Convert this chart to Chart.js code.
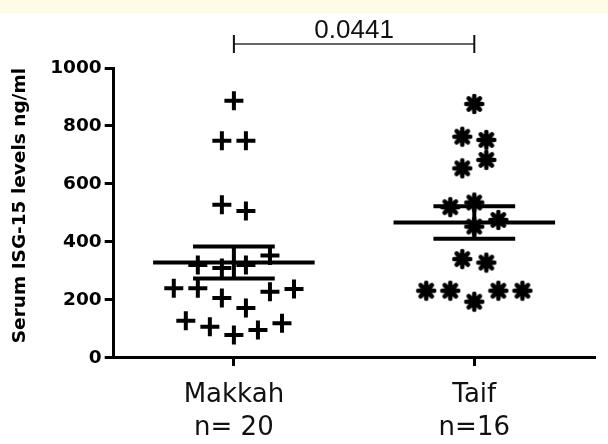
<!DOCTYPE html>
<html>
<head>
<meta charset="utf-8">
<script src="https://cdn.jsdelivr.net/npm/chart.js@4"></script>
<style>
  html, body { margin: 0; padding: 0; background: #fff; }
  #band { position: absolute; left: 0; top: 0; width: 608px; height: 13px; background: #fffbe6; }
  #wrap { position: absolute; left: 0; top: 0; width: 608px; height: 444px; }
</style>
</head>
<body>
<div id="band"></div>
<div id="wrap"><canvas id="chart"></canvas></div>
<script>
// Group labels and positions on the x scale
const groupNames = [['Makkah', 'n= 20'], ['Taif', 'n=16']];
const groupPos = [1, 2];

// Individual values, with their horizontal spread
const makkahX = [1.00, 0.95, 1.05, 0.95, 1.05, 1.15, 0.85, 0.95, 1.05, 0.75,
                 0.85, 1.15, 1.25, 0.95, 1.05, 0.80, 0.90, 1.00, 1.10, 1.20];
const makkahVals = [887, 749, 749, 528, 507, 353, 321, 310, 321, 240,
                    240, 228, 238, 207, 172, 128, 108, 79, 96, 120];
const taifX = [2.00, 1.95, 2.05, 2.05, 1.95, 1.90, 2.00, 2.10,
               2.00, 1.95, 2.05, 1.80, 1.90, 2.00, 2.10, 2.20];
const taifVals = [876, 763, 752, 683, 654, 520, 536, 476,
                  453, 341, 329, 232, 232, 194, 232, 232];

// Mean +/- SEM per group
const meanVals = [329, 467];
const semVals = [55, 56];

// Significance annotation
const pValue = '0.0441';
const bracketY = 1083;

const yTicks = [0, 200, 400, 600, 800, 1000];

const ARIAL = "Arial, 'Liberation Sans', sans-serif";
const WIDE = "'DejaVu Sans', Arial, sans-serif";
const MEAN_HALF = 0.336;
const CAP_HALF = 0.17;

// asterisk marker used for the second group
function makeAsterisk() {
    const c = document.createElement('canvas');
    c.width = 22;
    c.height = 22;
    const g = c.getContext('2d');
    g.translate(11, 11);
    g.strokeStyle = '#000';
    g.fillStyle = '#000';
    g.lineWidth = 4.5;
    g.lineCap = 'round';
    for (let k = 0; k < 4; k++) {
        const a = k * Math.PI / 4;
        g.beginPath();
        g.moveTo(-8 * Math.cos(a), -8 * Math.sin(a));
        g.lineTo(8 * Math.cos(a), 8 * Math.sin(a));
        g.stroke();
    }
    g.beginPath();
    g.arc(0, 0, 6, 0, Math.PI * 2);
    g.fill();
    return c;
}

function pts(xs, ys) {
    return xs.map((x, i) => ({ x: x, y: ys[i] }));
}

function segment(data, width) {
    return {
        type: 'line',
        data: data,
        borderColor: '#000',
        borderWidth: width,
        pointRadius: 0,
        fill: false,
        clip: false
    };
}

const datasets = [
    {
        type: 'scatter',
        data: pts(makkahX, makkahVals),
        pointStyle: 'cross',
        pointRadius: 9.5,
        borderColor: '#000',
        borderWidth: 4,
        backgroundColor: '#000'
    },
    {
        type: 'scatter',
        data: pts(taifX, taifVals),
        pointStyle: makeAsterisk(),
        pointRadius: 10,
        borderColor: '#000',
        backgroundColor: '#000'
    }
];

groupPos.forEach((g, i) => {
    const m = meanVals[i];
    const hi = m + semVals[i];
    const lo = m - semVals[i];
    datasets.push(segment([{ x: g - MEAN_HALF, y: m }, { x: g + MEAN_HALF, y: m }], 4));
    datasets.push(segment([{ x: g - CAP_HALF, y: hi }, { x: g + CAP_HALF, y: hi }], 4));
    datasets.push(segment([{ x: g - CAP_HALF, y: lo }, { x: g + CAP_HALF, y: lo }], 4));
    datasets.push(segment([{ x: g, y: lo }, { x: g, y: hi }], 4));
});

// Bracket with p-value above the plot
const bracketPlugin = {
    id: 'bracket',
    afterDraw(chart) {
        const ctx = chart.ctx;
        const xs = chart.scales.x;
        const ys = chart.scales.y;
        const x1 = xs.getPixelForValue(groupPos[0]);
        const x2 = xs.getPixelForValue(groupPos[1]);
        const y = ys.getPixelForValue(bracketY);
        ctx.save();
        ctx.strokeStyle = '#666';
        ctx.lineWidth = 2;
        ctx.beginPath();
        ctx.moveTo(x1, y);
        ctx.lineTo(x2, y);
        ctx.stroke();
        ctx.strokeStyle = '#111';
        ctx.beginPath();
        ctx.moveTo(x1, y - 9);
        ctx.lineTo(x1, y + 9);
        ctx.moveTo(x2, y - 9);
        ctx.lineTo(x2, y + 9);
        ctx.stroke();
        ctx.fillStyle = '#111';
        ctx.font = '26px ' + ARIAL;
        ctx.textAlign = 'center';
        ctx.textBaseline = 'alphabetic';
        ctx.fillText(pValue, (x1 + x2) / 2, y - 6);
        ctx.restore();
    }
};

new Chart(document.getElementById('chart'), {
    data: { datasets: datasets },
    options: {
        responsive: true,
        maintainAspectRatio: false,
        animation: false,
        layout: { padding: { top: 68, right: 0, bottom: -14, left: 4 } },
        plugins: {
            legend: { display: false },
            tooltip: { enabled: false }
        },
        scales: {
            x: {
                type: 'linear',
                min: 0.5,
                max: 2.5,
                afterBuildTicks: (axis) => {
                    axis.ticks = groupPos.map(v => ({ value: v }));
                },
                ticks: {
                    autoSkip: false,
                    maxRotation: 0,
                    color: '#111',
                    font: { family: WIDE, size: 26, lineHeight: 1.27 },
                    padding: 13,
                    callback: (v) => groupNames[groupPos.indexOf(v)]
                },
                grid: {
                    drawOnChartArea: false,
                    color: '#000',
                    lineWidth: 3,
                    tickLength: 8
                },
                border: { color: '#000', width: 3 }
            },
            y: {
                min: 0,
                max: 1000,
                afterBuildTicks: (axis) => {
                    axis.ticks = yTicks.map(v => ({ value: v }));
                },
                ticks: {
                    color: '#000',
                    font: { family: WIDE, size: 18.5, weight: 'bold' },
                    padding: 3,
                    callback: (v) => String(v)
                },
                grid: {
                    drawOnChartArea: false,
                    color: '#000',
                    lineWidth: 3,
                    tickLength: 9
                },
                border: { color: '#000', width: 3 },
                title: {
                    display: true,
                    align: 'end',
                    text: 'Serum ISG-15 levels ng/ml',
                    color: '#000',
                    font: { family: WIDE, size: 18.5, weight: 'bold' },
                    padding: { top: 5, bottom: 16 }
                }
            }
        }
    },
    plugins: [bracketPlugin]
});
</script>
</body>
</html>
